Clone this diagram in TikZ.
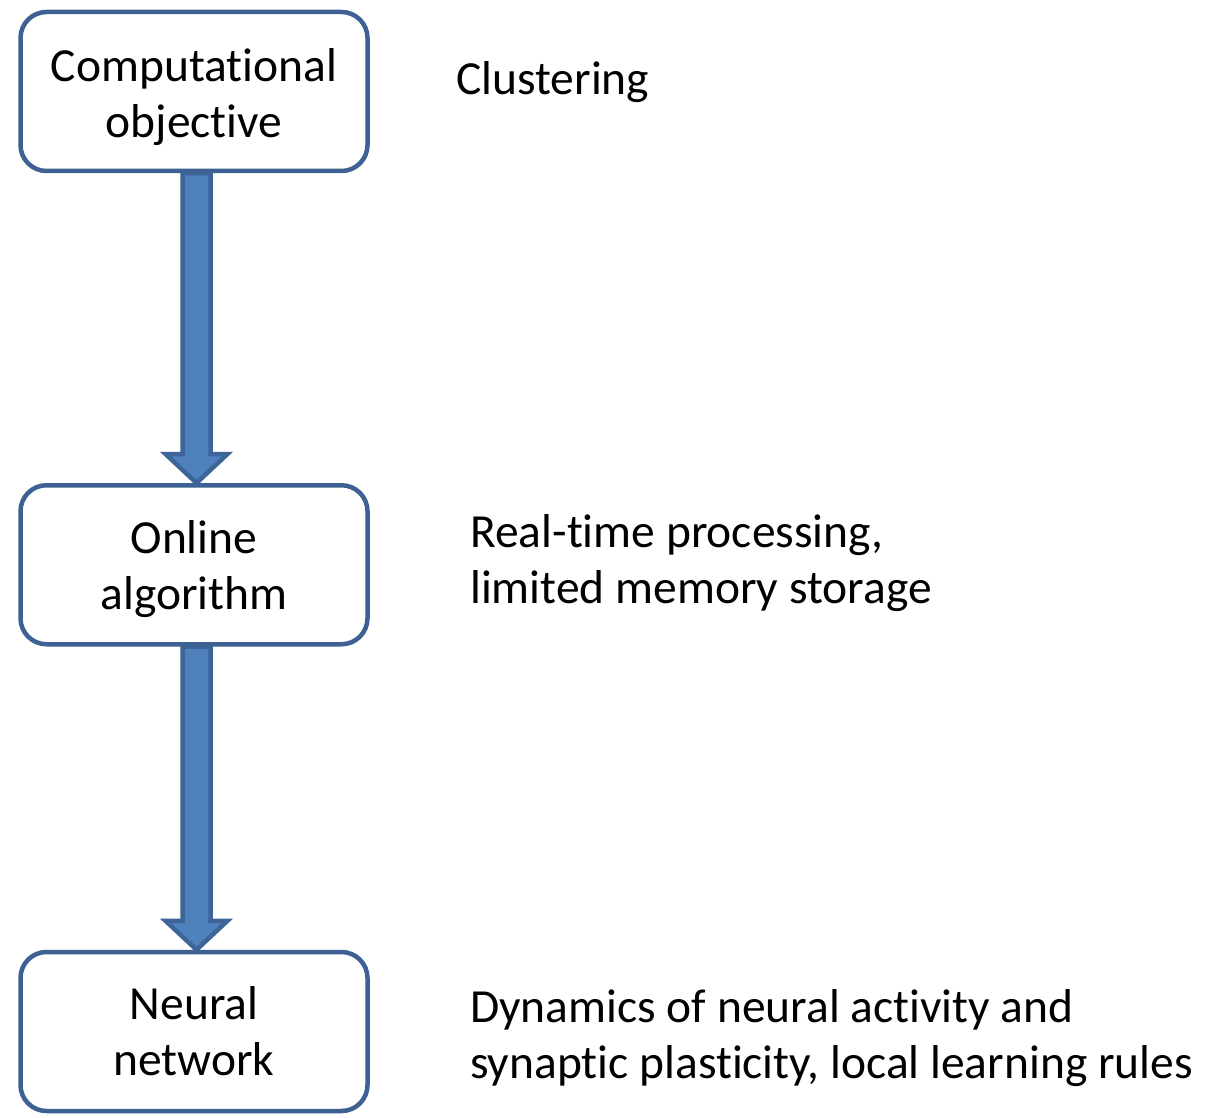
\documentclass[tikz,border=0pt]{standalone}
\usepackage{fontspec}
\setmainfont{Carlito}[RawFeature={-liga;-calt;-dlig;-clig}]
\usetikzlibrary{calc,backgrounds}
\definecolor{boxline}{HTML}{3C6192}
\definecolor{arrowline}{HTML}{3D6598}
\definecolor{arrowfill}{HTML}{4F81BD}
\tikzset{
  stage/.style={draw=boxline, line width=4.5pt, fill=white, rounded corners=26pt,
    minimum width=347pt, minimum height=159pt, inner sep=0pt},
  bigtext/.style={font=\fontsize{47.5}{56}\selectfont, inner sep=0pt},
  boxlabel/.style={bigtext, align=center},
  note/.style={bigtext, align=left, anchor=base west},
  fatarrow/.style={draw=arrowline, fill=arrowfill, line width=4.5pt, line join=miter},
}
% block arrow from the bottom of one stage to the top of the next
\newcommand{\stagearrow}[2]{%
  \path let \p1=($(#1.south)+(2.5pt,0)$), \p2=($(#2.north)+(2.5pt,0)$) in
    [fatarrow] (\x1-14pt,\y1) -- (\x1-14pt,\y2+29pt) -- (\x1-31pt,\y2+29pt)
    -- (\x1,\y2) -- (\x1+31pt,\y2+29pt) -- (\x1+14pt,\y2+29pt)
    -- (\x1+14pt,\y1) -- cycle;}
\begin{document}
\begin{tikzpicture}[x=1pt, y=-1pt]
  \useasboundingbox (0,0) rectangle (1210,1118);

  % the three stages
  \node[stage] (c1) at (194,91.5) {};
  \node[stage] (c2) at (194,564.75) {};
  \node[stage] (c3) at (194,1031.5) {};

  \node[boxlabel] (l1) at ([yshift=-6pt]c1.center) {Computational\\objective};
  \node[boxlabel] (l2) at ([yshift=-4pt]c2.center) {Online\\algorithm};
  \node[boxlabel] (l3) at ([yshift=0pt]c3.center) {Neural\\network};

  % arrows between the stages, drawn beneath the boxes
  \begin{scope}[on background layer]
    \stagearrow{c1}{c2}
    \stagearrow{c2}{c3}
  \end{scope}

  % descriptions on the right (anchored at the last line)
  \node[note] (n1) at (456,95) {Clustering};
  \node[note] (n2) at (470,603) {Real-time processing,\\limited memory storage};
  \node[note] (n3) at (470,1078) {Dynamics of neural activity and\\synaptic plasticity, local learning rules};
\end{tikzpicture}
\end{document}
